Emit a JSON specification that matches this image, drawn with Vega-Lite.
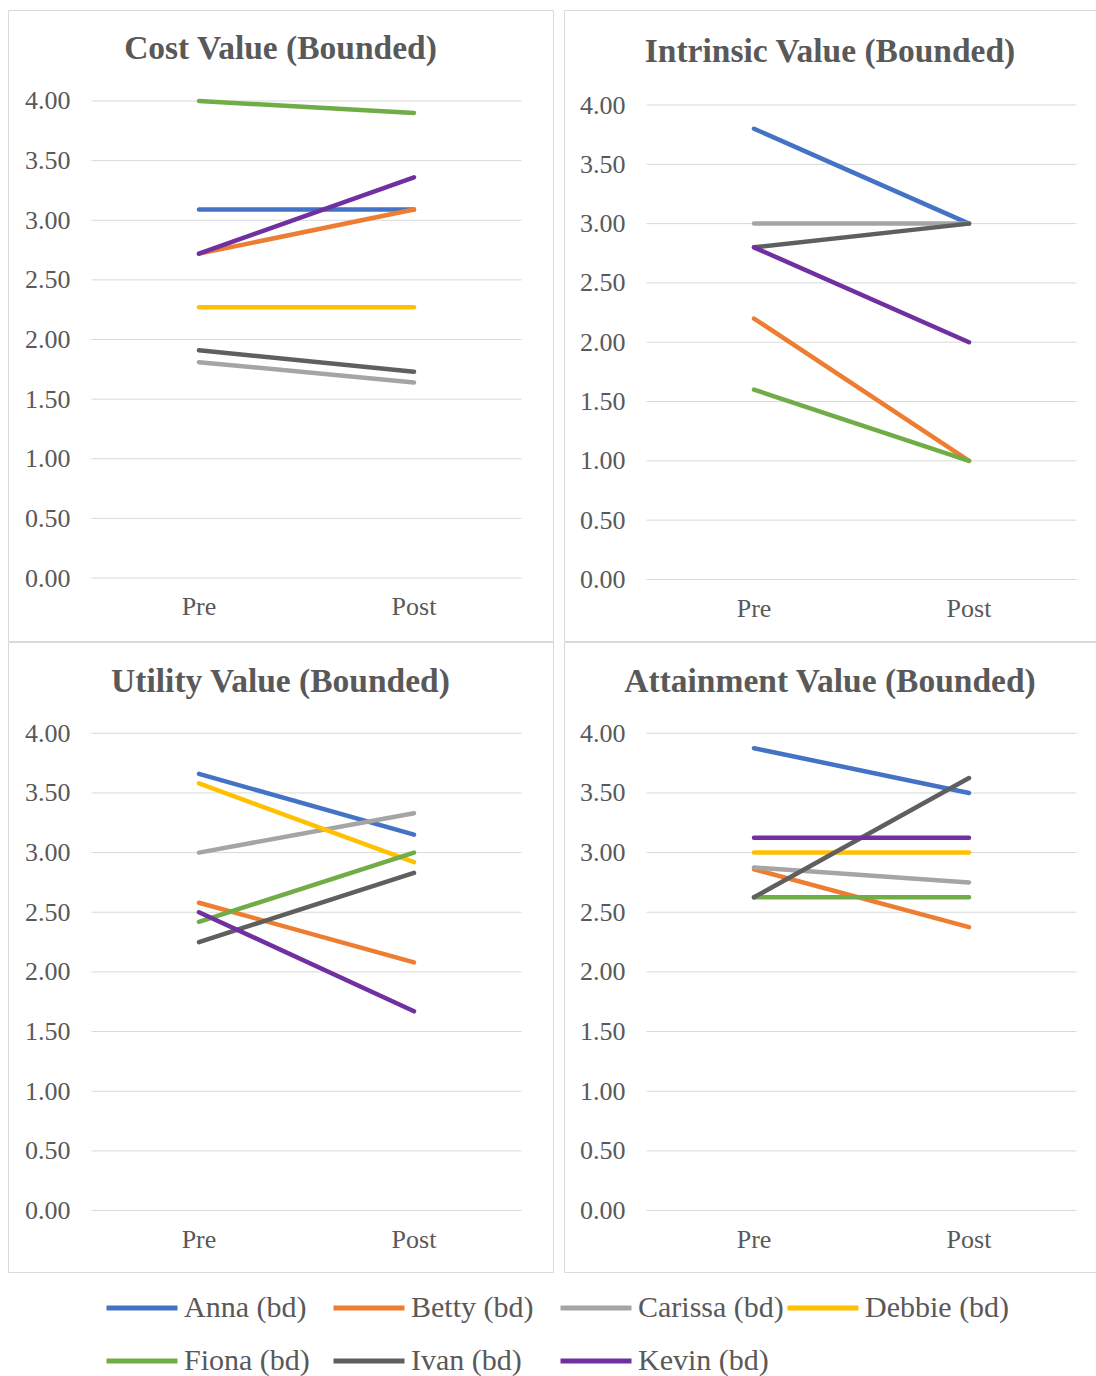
{
  "$schema": "https://vega.github.io/schema/vega-lite/v6.json",
  "padding": {"left": 7, "top": 9, "right": 0, "bottom": 0},
  "autosize": {"type": "pad"},
  "datasets": {
    "grid": [
      {"g": 0}, {"g": 0.5}, {"g": 1}, {"g": 1.5}, {"g": 2},
      {"g": 2.5}, {"g": 3}, {"g": 3.5}, {"g": 4}
    ],
    "scores": [
      {"panel": "Cost", "person": "Anna (bd)", "phase": "Pre", "value": 3.09},
      {"panel": "Cost", "person": "Anna (bd)", "phase": "Post", "value": 3.09},
      {"panel": "Cost", "person": "Betty (bd)", "phase": "Pre", "value": 2.72},
      {"panel": "Cost", "person": "Betty (bd)", "phase": "Post", "value": 3.09},
      {"panel": "Cost", "person": "Carissa (bd)", "phase": "Pre", "value": 1.81},
      {"panel": "Cost", "person": "Carissa (bd)", "phase": "Post", "value": 1.64},
      {"panel": "Cost", "person": "Debbie (bd)", "phase": "Pre", "value": 2.27},
      {"panel": "Cost", "person": "Debbie (bd)", "phase": "Post", "value": 2.27},
      {"panel": "Cost", "person": "Fiona (bd)", "phase": "Pre", "value": 4.0},
      {"panel": "Cost", "person": "Fiona (bd)", "phase": "Post", "value": 3.9},
      {"panel": "Cost", "person": "Ivan (bd)", "phase": "Pre", "value": 1.91},
      {"panel": "Cost", "person": "Ivan (bd)", "phase": "Post", "value": 1.73},
      {"panel": "Cost", "person": "Kevin (bd)", "phase": "Pre", "value": 2.72},
      {"panel": "Cost", "person": "Kevin (bd)", "phase": "Post", "value": 3.36},

      {"panel": "Intrinsic", "person": "Anna (bd)", "phase": "Pre", "value": 3.8},
      {"panel": "Intrinsic", "person": "Anna (bd)", "phase": "Post", "value": 3.0},
      {"panel": "Intrinsic", "person": "Betty (bd)", "phase": "Pre", "value": 2.2},
      {"panel": "Intrinsic", "person": "Betty (bd)", "phase": "Post", "value": 1.0},
      {"panel": "Intrinsic", "person": "Carissa (bd)", "phase": "Pre", "value": 3.0},
      {"panel": "Intrinsic", "person": "Carissa (bd)", "phase": "Post", "value": 3.0},
      {"panel": "Intrinsic", "person": "Fiona (bd)", "phase": "Pre", "value": 1.6},
      {"panel": "Intrinsic", "person": "Fiona (bd)", "phase": "Post", "value": 1.0},
      {"panel": "Intrinsic", "person": "Ivan (bd)", "phase": "Pre", "value": 2.8},
      {"panel": "Intrinsic", "person": "Ivan (bd)", "phase": "Post", "value": 3.0},
      {"panel": "Intrinsic", "person": "Kevin (bd)", "phase": "Pre", "value": 2.8},
      {"panel": "Intrinsic", "person": "Kevin (bd)", "phase": "Post", "value": 2.0},

      {"panel": "Utility", "person": "Anna (bd)", "phase": "Pre", "value": 3.66},
      {"panel": "Utility", "person": "Anna (bd)", "phase": "Post", "value": 3.15},
      {"panel": "Utility", "person": "Betty (bd)", "phase": "Pre", "value": 2.58},
      {"panel": "Utility", "person": "Betty (bd)", "phase": "Post", "value": 2.08},
      {"panel": "Utility", "person": "Carissa (bd)", "phase": "Pre", "value": 3.0},
      {"panel": "Utility", "person": "Carissa (bd)", "phase": "Post", "value": 3.33},
      {"panel": "Utility", "person": "Debbie (bd)", "phase": "Pre", "value": 3.58},
      {"panel": "Utility", "person": "Debbie (bd)", "phase": "Post", "value": 2.92},
      {"panel": "Utility", "person": "Fiona (bd)", "phase": "Pre", "value": 2.42},
      {"panel": "Utility", "person": "Fiona (bd)", "phase": "Post", "value": 3.0},
      {"panel": "Utility", "person": "Ivan (bd)", "phase": "Pre", "value": 2.25},
      {"panel": "Utility", "person": "Ivan (bd)", "phase": "Post", "value": 2.83},
      {"panel": "Utility", "person": "Kevin (bd)", "phase": "Pre", "value": 2.5},
      {"panel": "Utility", "person": "Kevin (bd)", "phase": "Post", "value": 1.67},

      {"panel": "Attainment", "person": "Anna (bd)", "phase": "Pre", "value": 3.875},
      {"panel": "Attainment", "person": "Anna (bd)", "phase": "Post", "value": 3.5},
      {"panel": "Attainment", "person": "Betty (bd)", "phase": "Pre", "value": 2.86},
      {"panel": "Attainment", "person": "Betty (bd)", "phase": "Post", "value": 2.375},
      {"panel": "Attainment", "person": "Carissa (bd)", "phase": "Pre", "value": 2.875},
      {"panel": "Attainment", "person": "Carissa (bd)", "phase": "Post", "value": 2.75},
      {"panel": "Attainment", "person": "Debbie (bd)", "phase": "Pre", "value": 3.0},
      {"panel": "Attainment", "person": "Debbie (bd)", "phase": "Post", "value": 3.0},
      {"panel": "Attainment", "person": "Fiona (bd)", "phase": "Pre", "value": 2.625},
      {"panel": "Attainment", "person": "Fiona (bd)", "phase": "Post", "value": 2.625},
      {"panel": "Attainment", "person": "Ivan (bd)", "phase": "Pre", "value": 2.625},
      {"panel": "Attainment", "person": "Ivan (bd)", "phase": "Post", "value": 3.625},
      {"panel": "Attainment", "person": "Kevin (bd)", "phase": "Pre", "value": 3.125},
      {"panel": "Attainment", "person": "Kevin (bd)", "phase": "Post", "value": 3.125}
    ]
  },
  "columns": 2,
  "spacing": {"row": -2, "column": 9},
  "resolve": {"scale": {"x": "independent", "y": "independent", "color": "shared"}},
  "concat": [
    {
      "title": {"text": "Cost Value (Bounded)", "offset": -56},
      "width": 545,
      "height": 631,
      "layer": [
        {
          "data": {"name": "grid"},
          "mark": {"type": "rule", "color": "#d9d9d9", "strokeWidth": 1},
          "encoding": {
            "x": {"datum": "Pre", "type": "nominal", "bandPosition": 0,
                  "scale": {"type": "band", "domain": ["Pre", "Post"], "paddingInner": 0, "paddingOuter": 0.2674, "align": 0.726}},
            "x2": {"datum": "Post", "bandPosition": 1},
            "y": {"field": "g", "type": "quantitative",
                  "scale": {"domain": [-0.528, 4.763], "nice": false, "zero": false}}
          }
        },
        {
          "data": {"name": "scores"},
          "transform": [{"filter": "datum.panel === 'Cost'"}],
          "mark": {"type": "line", "strokeWidth": 4.5, "strokeCap": "round"},
          "encoding": {
            "x": {"field": "phase", "type": "nominal", "sort": ["Pre", "Post"],
                  "axis": {"orient": "bottom", "offset": -48, "labelPadding": 0, "domain": false, "ticks": false, "labelAngle": 0, "labelAlign": "center", "labelBaseline": "top", "title": null}},
            "y": {"field": "value", "type": "quantitative",
                  "axis": {"values": [0, 0.5, 1, 1.5, 2, 2.5, 3, 3.5, 4], "format": ".2f", "offset": -66, "labelPadding": 4, "domain": false, "ticks": false, "grid": false, "title": null}},
            "color": {"field": "person", "type": "nominal"}
          }
        }
      ]
    },
    {
      "title": {"text": "Intrinsic Value (Bounded)", "offset": -59},
      "width": 532,
      "height": 631,
      "layer": [
        {
          "data": {"name": "grid"},
          "mark": {"type": "rule", "color": "#d9d9d9", "strokeWidth": 1},
          "encoding": {
            "x": {"datum": "Pre", "type": "nominal", "bandPosition": 0,
                  "scale": {"type": "band", "domain": ["Pre", "Post"], "paddingInner": 0, "paddingOuter": 0.2372, "align": 0.809}},
            "x2": {"datum": "Post", "bandPosition": 1},
            "y": {"field": "g", "type": "quantitative",
                  "scale": {"domain": [-0.519, 4.801], "nice": false, "zero": false}}
          }
        },
        {
          "data": {"name": "scores"},
          "transform": [{"filter": "datum.panel === 'Intrinsic'"}],
          "mark": {"type": "line", "strokeWidth": 4.5, "strokeCap": "round"},
          "encoding": {
            "x": {"field": "phase", "type": "nominal", "sort": ["Pre", "Post"],
                  "axis": {"orient": "bottom", "offset": -46, "labelPadding": 0, "domain": false, "ticks": false, "labelAngle": 0, "labelAlign": "center", "labelBaseline": "top", "title": null}},
            "y": {"field": "value", "type": "quantitative",
                  "axis": {"values": [0, 0.5, 1, 1.5, 2, 2.5, 3, 3.5, 4], "format": ".2f", "offset": -65, "labelPadding": 4, "domain": false, "ticks": false, "grid": false, "title": null}},
            "color": {"field": "person", "type": "nominal"}
          }
        }
      ]
    },
    {
      "title": {"text": "Utility Value (Bounded)", "offset": -57},
      "width": 545,
      "height": 630,
      "layer": [
        {
          "data": {"name": "grid"},
          "mark": {"type": "rule", "color": "#d9d9d9", "strokeWidth": 1},
          "encoding": {
            "x": {"datum": "Pre", "type": "nominal", "bandPosition": 0,
                  "scale": {"type": "band", "domain": ["Pre", "Post"], "paddingInner": 0, "paddingOuter": 0.2674, "align": 0.726}},
            "x2": {"datum": "Post", "bandPosition": 1},
            "y": {"field": "g", "type": "quantitative",
                  "scale": {"domain": [-0.515, 4.765], "nice": false, "zero": false}}
          }
        },
        {
          "data": {"name": "scores"},
          "transform": [{"filter": "datum.panel === 'Utility'"}],
          "mark": {"type": "line", "strokeWidth": 4.5, "strokeCap": "round"},
          "encoding": {
            "x": {"field": "phase", "type": "nominal", "sort": ["Pre", "Post"],
                  "axis": {"orient": "bottom", "offset": -46, "labelPadding": 0, "domain": false, "ticks": false, "labelAngle": 0, "labelAlign": "center", "labelBaseline": "top", "title": null}},
            "y": {"field": "value", "type": "quantitative",
                  "axis": {"values": [0, 0.5, 1, 1.5, 2, 2.5, 3, 3.5, 4], "format": ".2f", "offset": -66, "labelPadding": 4, "domain": false, "ticks": false, "grid": false, "title": null}},
            "color": {"field": "person", "type": "nominal"}
          }
        }
      ]
    },
    {
      "title": {"text": "Attainment Value (Bounded)", "offset": -57},
      "width": 532,
      "height": 630,
      "layer": [
        {
          "data": {"name": "grid"},
          "mark": {"type": "rule", "color": "#d9d9d9", "strokeWidth": 1},
          "encoding": {
            "x": {"datum": "Pre", "type": "nominal", "bandPosition": 0,
                  "scale": {"type": "band", "domain": ["Pre", "Post"], "paddingInner": 0, "paddingOuter": 0.2372, "align": 0.809}},
            "x2": {"datum": "Post", "bandPosition": 1},
            "y": {"field": "g", "type": "quantitative",
                  "scale": {"domain": [-0.515, 4.765], "nice": false, "zero": false}}
          }
        },
        {
          "data": {"name": "scores"},
          "transform": [{"filter": "datum.panel === 'Attainment'"}],
          "mark": {"type": "line", "strokeWidth": 4.5, "strokeCap": "round"},
          "encoding": {
            "x": {"field": "phase", "type": "nominal", "sort": ["Pre", "Post"],
                  "axis": {"orient": "bottom", "offset": -46, "labelPadding": 0, "domain": false, "ticks": false, "labelAngle": 0, "labelAlign": "center", "labelBaseline": "top", "title": null}},
            "y": {"field": "value", "type": "quantitative",
                  "axis": {"values": [0, 0.5, 1, 1.5, 2, 2.5, 3, 3.5, 4], "format": ".2f", "offset": -65, "labelPadding": 4, "domain": false, "ticks": false, "grid": false, "title": null}},
            "color": {"field": "person", "type": "nominal"}
          }
        }
      ]
    }
  ],
  "config": {
    "background": "white",
    "view": {"stroke": "#d9d9d9", "strokeWidth": 1},
    "range": {
      "category": ["#4472C4", "#ED7D31", "#A5A5A5", "#FFC000", "#70AD47", "#5F5F5F", "#7030A0"]
    },
    "title": {
      "font": "Liberation Serif",
      "fontSize": 33.5,
      "fontWeight": "bold",
      "color": "#595959",
      "anchor": "middle",
      "frame": "group",
      "baseline": "alphabetic"
    },
    "axis": {
      "labelFont": "Liberation Serif",
      "labelFontSize": 26,
      "labelColor": "#595959"
    },
    "legend": {
      "orient": "none",
      "legendX": 96,
      "legendY": 1260,
      "direction": "horizontal",
      "columns": 4,
      "gridAlign": "all",
      "title": null,
      "padding": 0,
      "symbolType": "stroke",
      "symbolStrokeWidth": 5,
      "symbolSize": 5041,
      "labelFont": "Liberation Serif",
      "labelFontSize": 30,
      "labelColor": "#595959",
      "labelOffset": 4,
      "labelLimit": 0,
      "columnPadding": -7,
      "rowPadding": -18
    }
  }
}
